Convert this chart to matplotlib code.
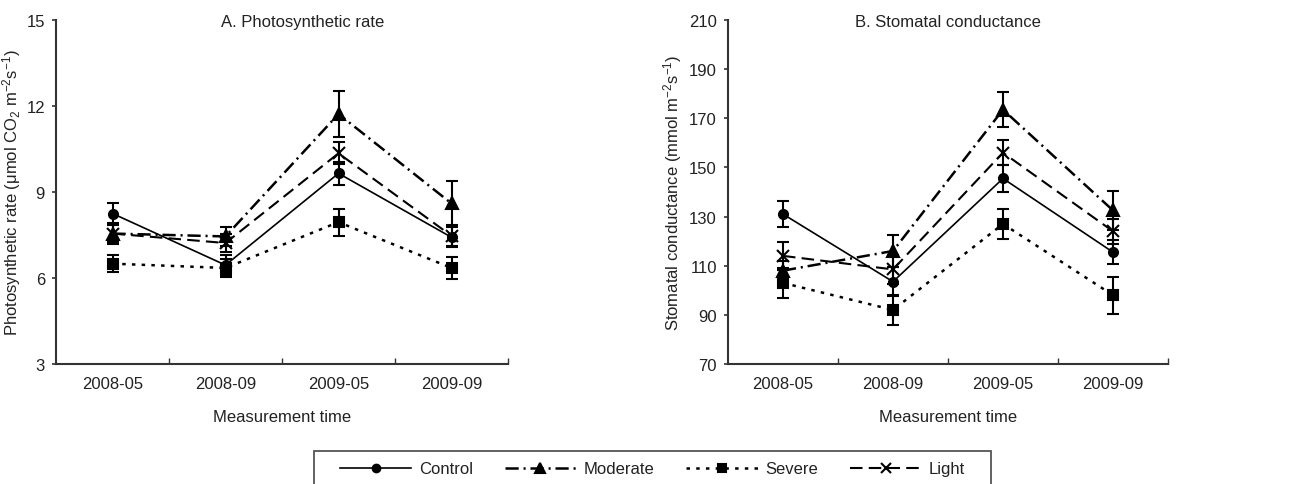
import matplotlib
matplotlib.use("Agg")
import matplotlib.pyplot as plt
from matplotlib.lines import Line2D
from matplotlib.patches import Rectangle

# -----------------------------------
# Data
# -----------------------------------
times = ["2008-05", "2008-09", "2009-05", "2009-09"]
groups = ["Control", "Moderate", "Severe", "Light"]

# A. Photosynthetic rate
pn_control = [8.25, 6.45, 9.65, 7.42]
pn_control_err = [0.37, 0.35, 0.40, 0.35]
pn_moderate = [7.55, 7.45, 11.72, 8.60]
pn_moderate_err = [0.30, 0.33, 0.80, 0.77]
pn_severe = [6.50, 6.35, 7.95, 6.35]
pn_severe_err = [0.30, 0.30, 0.47, 0.40]
pn_light = [7.55, 7.22, 10.35, 7.47]
pn_light_err = [0.37, 0.30, 0.38, 0.37]

# B. Stomatal conductance
gs_control = [131.0, 103.5, 145.5, 115.5]
gs_control_err = [5.2, 6.0, 5.5, 5.0]
gs_moderate = [108.0, 116.0, 173.5, 132.5]
gs_moderate_err = [4.0, 6.5, 7.0, 8.0]
gs_severe = [103.0, 92.0, 127.0, 98.0]
gs_severe_err = [6.0, 6.2, 6.0, 7.5]
gs_light = [114.0, 108.5, 156.0, 124.0]
gs_light_err = [5.8, 6.0, 5.0, 5.0]

# -----------------------------------
# Style
# -----------------------------------
plt.rcParams["font.family"] = ["Liberation Sans", "DejaVu Sans"]
plt.rcParams["mathtext.default"] = "regular"
plt.rcParams["lines.scale_dashes"] = False
txt = "#222222"
spine = "#333333"
fs = 12

styles = {
    "Control": dict(ls="-", marker="o", ms=6.5, lw=1.2),
    "Moderate": dict(ls=(0, (9.5, 3.5, 1.5, 3.5)), marker="^", ms=8, lw=1.8),
    "Severe": dict(ls=(0, (2.5, 4.5)), marker="s", ms=6.5, lw=1.8),
    "Light": dict(ls=(0, (9, 4.5)), marker="x", ms=8, lw=1.5),
}

W, H = 1299, 485
fig = plt.figure(figsize=(W / 100, H / 100), dpi=100)
axA = fig.add_axes([56 / W, 1 - 365 / H, 452 / W, 344 / H])
axB = fig.add_axes([728 / W, 1 - 365 / H, 440 / W, 344 / H])

xpos = [i + 0.5 for i in range(len(times))]


def draw(ax, series, ylim, yticks, title, title_x, ylabel, ylab_x):
    for name, (vals, errs) in zip(groups, series):
        st = styles[name]
        ax.errorbar(xpos, vals, yerr=errs, color="black", linestyle=st["ls"],
                    lw=st["lw"], marker=st["marker"], ms=st["ms"],
                    mew=1.5, elinewidth=1.5, capsize=4.5, capthick=1.5,
                    zorder=3)
    ax.set_xlim(0, 4)
    ax.set_ylim(*ylim)
    ax.set_yticks(yticks)
    ax.set_xticks(xpos)
    ax.set_xticklabels(times)
    ax.set_xticks([1, 2, 3, 4], minor=True)
    ax.tick_params(axis="x", which="major", length=0, pad=9,
                   labelsize=fs, labelcolor=txt)
    ax.tick_params(axis="x", which="minor", direction="in", length=4.5,
                   width=1, color=spine)
    ax.tick_params(axis="y", direction="out", length=3, width=1.2,
                   color=spine, pad=5, labelsize=fs, labelcolor=txt)
    for s in ["top", "right"]:
        ax.spines[s].set_visible(False)
    for s in ["left", "bottom"]:
        ax.spines[s].set_color(spine)
        ax.spines[s].set_linewidth(1.5)
    ax.text(title_x, 0.995, title, transform=ax.transAxes, ha="center",
            va="center", fontsize=fs, color=txt)
    ax.set_ylabel(ylabel, fontsize=fs, color=txt)
    ax.yaxis.set_label_coords(ylab_x, 0.5)
    ax.set_xlabel("Measurement time", fontsize=fs, color=txt)
    ax.xaxis.set_label_coords(0.5, -0.13)


draw(axA,
     [(pn_control, pn_control_err), (pn_moderate, pn_moderate_err),
      (pn_severe, pn_severe_err), (pn_light, pn_light_err)],
     (3, 15), [3, 6, 9, 12, 15], "A. Photosynthetic rate", 0.545,
     r"Photosynthetic rate ($\mu$mol CO$_2$ m$^{-2}$s$^{-1}$)", -0.072)

draw(axB,
     [(gs_control, gs_control_err), (gs_moderate, gs_moderate_err),
      (gs_severe, gs_severe_err), (gs_light, gs_light_err)],
     (70, 210), list(range(70, 211, 20)), "B. Stomatal conductance", 0.5,
     r"Stomatal conductance (mmol m$^{-2}$s$^{-1}$)", -0.1)

# -----------------------------------
# Legend (frame drawn separately, bottom runs off the figure)
# -----------------------------------
handles = [Line2D([], [], color="black", linestyle=styles[g]["ls"],
                  lw=styles[g]["lw"], marker=styles[g]["marker"],
                  ms=styles[g]["ms"] - 1, mew=1.5) for g in groups]
fig.legend(handles, groups, loc="center",
           bbox_to_anchor=(652.5 / W, 1 - 470 / H), ncol=4,
           frameon=False, handlelength=4.3, handletextpad=0.45,
           columnspacing=1.9, fontsize=fs, borderpad=0, labelcolor=txt)
fig.add_artist(Rectangle((314 / W, 1 - 492 / H), 677 / W, 40 / H,
                         transform=fig.transFigure, fill=False,
                         edgecolor="#555555", lw=1.3))

fig.savefig("out.png", dpi=100)
